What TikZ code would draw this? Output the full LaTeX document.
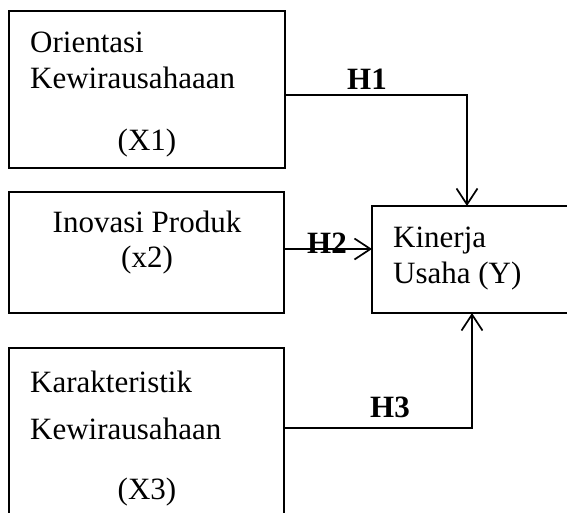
\documentclass[tikz,border=0pt]{standalone}
\usepackage{fontspec}
\setmainfont{Liberation Serif}
\usetikzlibrary{arrows.meta}
\begin{document}
\begin{tikzpicture}[x=1pt,y=-1pt,
  box/.style={draw,line width=1.4pt,rectangle,anchor=north west,inner sep=0pt,outer sep=0pt},
  conn/.style={line width=1.9pt},
  tip/.style={-{Straight Barb[length=16pt,width=21pt,line width=1.7pt]}},
  txt/.style={inner sep=0pt,font=\fontsize{31}{37}\selectfont},
  hlab/.style={inner sep=0pt,font=\fontsize{31}{37}\selectfont\bfseries,anchor=base}]
\useasboundingbox (0,0) rectangle (567,512);
\node[box,minimum width=276pt,minimum height=157pt] (b1) at (9,11) {};
\node[box,minimum width=275pt,minimum height=121pt] (b2) at (9,192) {};
\node[box,minimum width=275pt,minimum height=200pt] (b3) at (9,348) {};
\node[box,minimum width=260pt,minimum height=107pt] (by) at (372,206) {};
% texts
\node[txt,anchor=base west] (t1a) at (30,52) {Orientasi};
\node[txt,anchor=base west] (t1b) at (30,88) {Kewirausahaaan};
\node[txt,anchor=base] (t1c) at (147,150) {(X1)};
\node[txt,anchor=base] (t2a) at (147,232) {Inovasi Produk};
\node[txt,anchor=base] (t2b) at (147,267) {(x2)};
\node[txt,anchor=base west] (t3a) at (30,392) {Karakteristik};
\node[txt,anchor=base west] (t3b) at (30,439) {Kewirausahaan};
\node[txt,anchor=base] (t3c) at (147,499) {(X3)};
\node[txt,anchor=base west] (tya) at (393,247) {Kinerja};
\node[txt,anchor=base west] (tyb) at (393,283) {Usaha (Y)};
% connectors
\coordinate (h1c) at (467,95);
\coordinate (h2c) at (372,249);
\coordinate (h3c) at (472,428);
\draw[conn,tip] (b1.east |- h1c) -- (h1c) -- (by.north -| h1c);
\draw[conn,tip] (b2.east |- h2c) -- (h2c);
\draw[conn,tip] (b3.east |- h3c) -- (h3c) -- (by.south -| h3c);
% labels
\node[hlab] (h1) at (367,89) {H1};
\node[hlab] (h2) at (327,253) {H2};
\node[hlab] (h3) at (390,417) {H3};
\end{tikzpicture}
\end{document}
